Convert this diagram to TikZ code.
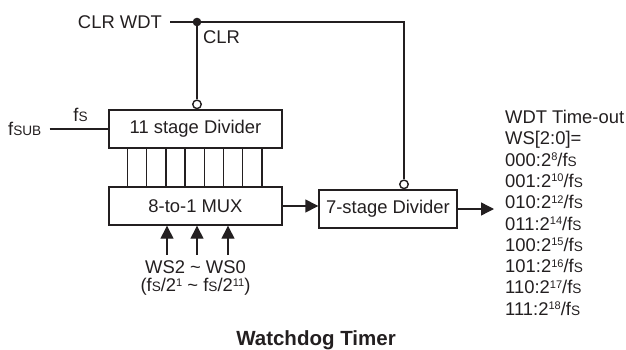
\documentclass[tikz,border=0pt]{standalone}
\usepackage{fontspec}
\setmainfont{Liberation Sans}
\usetikzlibrary{arrows.meta,calc}
\definecolor{InkGray}{HTML}{231F20}
\newcommand{\smallsub}[1]{\scalebox{0.74}{#1}}
\newcommand{\supx}[1]{\raisebox{0.3em}{\scalebox{0.6}{#1}}}
\tikzset{
  blk/.style={draw=InkGray, line width=1.4pt, minimum height=38pt, inner sep=0pt,
    text=InkGray, font=\fontsize{18.4}{21.3}\selectfont},
  lbl/.style={inner sep=0pt, text=InkGray, font=\fontsize{18.4}{21.3}\selectfont},
  wire/.style={InkGray, line width=1.4pt},
  arr/.style={wire, -{Triangle[length=13pt,width=13pt]}},
  inv/.style={circle, draw=InkGray, line width=1.4pt, fill=white, minimum size=8.5pt, inner sep=0pt},
}

\begin{document}
\begin{tikzpicture}[x=1pt,y=1pt]
  \useasboundingbox (0,0) rectangle (626,349);
  % blocks
  \node[blk, minimum width=173pt] (div11) at (195.5,220) {11 stage Divider};
  \node[blk, minimum width=173pt] (mux) at (195.5,143) {8-to-1 MUX};
  \node[blk, minimum width=138pt] (div7) at (388,140) {7-stage Divider};

  % clear line
  \node[lbl, anchor=east] (clrwdt) at (162,327) {CLR WDT};
  \coordinate (split) at (197,327);
  \coordinate (corner) at (404,327);
  \node[inv, anchor=south] (inv11) at (div11.north -| split) {};
  \node[inv, anchor=south] (inv7) at (div7.north -| corner) {};
  \draw[wire] ([xshift=8pt]clrwdt.east) -- (corner) -- (inv7.north);
  \draw[wire] (split) -- (inv11.north);
  \fill[InkGray] (split) circle (4.3pt);
  \node[lbl, anchor=west] (clr) at (203,312) {CLR};

  % clock in
  \node[lbl, anchor=west] (fsub) at (8,220) {f\smallsub{SUB}};
  \node[lbl] (fsin) at (80.5,234) {f\smallsub{S}};
  \draw[wire] ([xshift=8pt]fsub.east) -- (div11.west);

  % divider taps
  \foreach \k in {1,...,8}
    \draw[wire] ([xshift=\k*19.2pt]div11.south west) -- ([xshift=\k*19.2pt]mux.north west);

  % select inputs
  \node[lbl] (wssel) at (195.5,82) {WS2 \textasciitilde{} WS0};
  \node[lbl] (wsrange) at (195.5,62) {(f\smallsub{S}/2\supx{1} \textasciitilde{} f\smallsub{S}/2\supx{11})};
  \foreach \dx in {-28.5,1.5,32.5}
    \draw[arr] ($(wssel.north)+(\dx,5.5)$) -- ($(mux.south)+(\dx,0)$);

  % outputs
  \draw[arr] (mux.east) -- (mux.east -| div7.west);
  \coordinate (tout) at (494,140);
  \draw[arr] (div7.east) -- (tout);

  % time-out table
  \foreach \txt [count=\i from 0] in {{WDT Time-out}, {WS[2:0]=},
      {000:2\supx{8}/f\smallsub{S}}, {001:2\supx{10}/f\smallsub{S}},
      {010:2\supx{12}/f\smallsub{S}}, {011:2\supx{14}/f\smallsub{S}},
      {100:2\supx{15}/f\smallsub{S}}, {101:2\supx{16}/f\smallsub{S}},
      {110:2\supx{17}/f\smallsub{S}}, {111:2\supx{18}/f\smallsub{S}}}
    \node[lbl, anchor=base west] (tbl\i) at (505,225.5-21.3*\i) {\txt};

  \node[lbl, anchor=base, font=\bfseries\fontsize{20.5}{24}\selectfont] (title) at (316,4) {Watchdog Timer};
\end{tikzpicture}
\end{document}
